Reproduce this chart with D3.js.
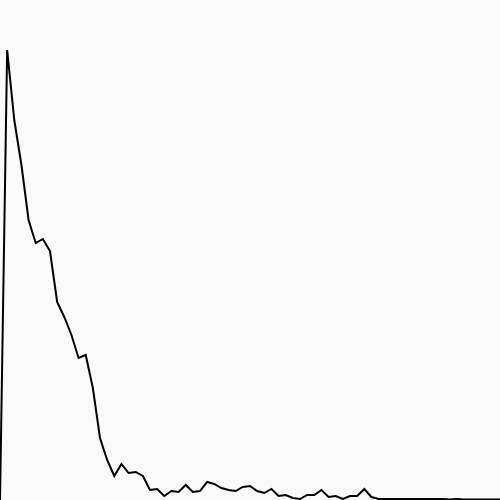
<!DOCTYPE html>
<html>
<head>
<meta charset="utf-8">
<script src="https://cdn.jsdelivr.net/npm/d3@7"></script>
<style>
html, body { margin: 0; padding: 0; background: #fafafa; }
svg { display: block; }
</style>
</head>
<body>
<script>
const bins = d3.range(0, 71);
const counts = [
  0, 450, 380, 335, 280, 257, 261, 249, 198, 183,
  165, 142, 145, 112, 62, 40, 24, 36, 27, 28,
  24, 10, 11, 4, 9, 8, 15, 8, 9, 18,
  16, 12, 10, 9, 13, 14, 9, 7, 11, 4,
  5, 2, 1, 5, 5, 10, 3, 4, 1, 4,
  4, 11, 3, 1, 1, 1, 1, 1, 1, 1,
  1, 1, 1, 0.5, 1, 0.5, 0.5, 0.5, 0.5, 0.5, 0.5
];

const W = 500, H = 500;
const svg = d3.select("body").append("svg").attr("width", W).attr("height", H);
svg.append("rect").attr("width", W).attr("height", H).attr("fill", "#fafafa");

const x = d3.scaleLinear().domain([0, 70]).range([0, W]);
const y = d3.scaleLinear().domain([0, 450]).range([H, 50]);

const line = d3.line().x((d, i) => x(bins[i])).y(d => y(d));

svg.append("path")
  .datum(counts)
  .attr("d", line)
  .attr("fill", "none")
  .attr("stroke", "#000")
  .attr("stroke-width", 2)
  .attr("stroke-linejoin", "miter");
</script>
</body>
</html>
